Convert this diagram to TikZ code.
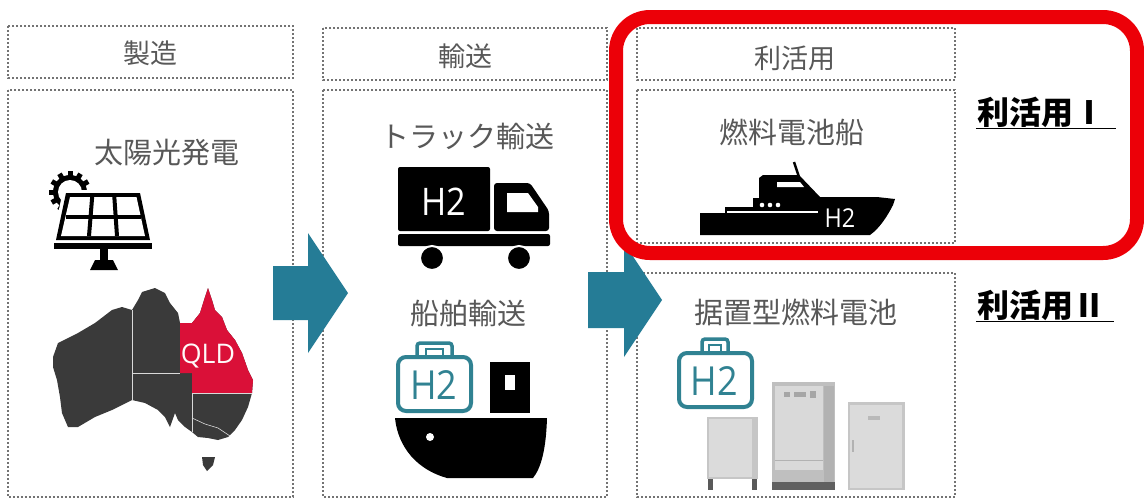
\documentclass[tikz,border=0pt]{standalone}
\usepackage{fontspec}
\setmainfont{Noto Sans CJK JP}
\newfontfamily\iconfont{Open Sans}
\usetikzlibrary{positioning}
\usetikzlibrary{calc}

\definecolor{flowteal}{RGB}{37,124,150}
\definecolor{bagteal}{RGB}{48,130,146}
\definecolor{markred}{RGB}{236,0,8}
\definecolor{mapgray}{RGB}{58,58,58}
\definecolor{qldred}{RGB}{218,16,56}
\definecolor{labelgray}{RGB}{88,88,88}

\begin{document}
\begin{tikzpicture}[
        x = 1pt, y = -1pt,
        dotbox/.style = {
            draw = black!55,
            line width = 2.2pt,
            dash pattern = on 2pt off 2pt
        },
        head/.style = {
            font = \fontsize{27}{30}\selectfont,
            text = labelgray,
            inner sep = 0pt
        },
        item/.style = {
            font = \fontsize{29}{32}\selectfont,
            text = labelgray,
            inner sep = 0pt
        },
        usage/.style = {
            font = \fontsize{32}{34}\selectfont\bfseries,
            inner sep = 1pt
        },
        flow/.style = {fill = flowteal},
        h2tag/.style = {
            font = \iconfont\fontsize{#1}{#1}\selectfont,
            xscale = 0.9,
            inner sep = 0pt
        },
        h2tag/.default = 24,
        bag/.style = {draw = bagteal, line width = 4pt, rounded corners = 8pt}
        ]
%
        \useasboundingbox (0,0) rectangle (1144,499);
        \fill[white] (0,0) rectangle (1144,499);
%
% column frames
        \draw[dotbox] (8,26) rectangle (293,78);
        \draw[dotbox] (8,90) rectangle (293,497);
        \draw[dotbox] (323,28) rectangle (607,80);
        \draw[dotbox] (323,90) rectangle (607,497);
        \draw[dotbox] (637,28) rectangle (955,80);
        \draw[dotbox] (637,90) rectangle (955,243);
        \draw[dotbox] (637,273) rectangle (955,497);
%
        \node[head] (mfg) at (150,53) {製造};
        \node[head] (trans) at (465,56) {輸送};
        \node[head] (use) at (795,58) {利活用};
%
        \node[item] (solar) at (167,153) {太陽光発電};
        \node[item] (truck) at (467,136) {トラック輸送};
        \node[item] (ship) at (468,313) {船舶輸送};
        \node[item] (fcship) at (792,132) {燃料電池船};
        \node[item] (fcunit) at (796,312) {据置型燃料電池};
%
        \node[usage] (use1) at (1041,112) {利活用Ⅰ};
        \node[usage] (use2) at (1041,305) {利活用Ⅱ};
        \draw[line width = 1.4pt] (use1.south west) -- ([xshift=10pt]use1.south east);
        \draw[line width = 1.4pt] (use2.south west) -- ([xshift=8pt]use2.south east);
%
% sun and solar panel
        \fill (70,192) circle (17);
        \fill[white] (70,192) circle (12);
        \foreach \a in {0,30,...,330}
            \fill[rotate around={\a:(70,192)}] (67.5,171) rectangle (72.5,177);
        \fill[white] (63,190) -- (143,190) -- (154,243) -- (52,243) -- cycle;
        \fill (66,193) -- (140,193) -- (150,240) -- (56,240) -- cycle;
        \coordinate (c1) at (70,197);
        \coordinate (c2) at (136.5,197);
        \coordinate (c3) at (145,236);
        \coordinate (c4) at (61,236);
        \fill[white] (c1) -- (c2) -- (c3) -- (c4) -- cycle;
        \draw[line width = 4pt] ($(c1)!1/3!(c2)$) -- ($(c4)!1/3!(c3)$);
        \draw[line width = 4pt] ($(c1)!2/3!(c2)$) -- ($(c4)!2/3!(c3)$);
        \draw[line width = 4pt] ($(c1)!.5!(c4)$) -- ($(c2)!.5!(c3)$);
        \fill (54,243) rectangle (152,249);
        \fill (100,249) rectangle (108,261);
        \fill (95,260) -- (113,260) -- (118,270) -- (90,270) -- cycle;
%
% map
        \fill[mapgray] (53,357) -- (58,343) -- (78,333) -- (95,323) -- (112,310) -- (122,307)
            -- (132,310) -- (138,300) -- (142,292) -- (155,288) -- (165,293) -- (170,303)
            -- (178,313) -- (180,323) -- (192,323) -- (200,313) -- (205,297) -- (208,288)
            -- (212,300) -- (215,310) -- (222,317) -- (227,330) -- (235,340) -- (242,353)
            -- (248,370) -- (253,380) -- (252,393) -- (248,407) -- (242,420) -- (235,430)
            -- (228,437) -- (218,440) -- (208,438) -- (198,437) -- (192,432) -- (185,427)
            -- (178,420) -- (175,413) -- (170,427) -- (165,417) -- (158,410) -- (145,403)
            -- (132,400) -- (112,410) -- (95,417) -- (78,427) -- (68,427) -- (62,413)
            -- (60,397) -- (57,380) -- (53,367) -- cycle;
        \fill[mapgray] (202,457) -- (215,457) -- (213,465) -- (207,471) -- (203,465) -- cycle;
        \fill[qldred] (180,323) -- (192,323) -- (200,313) -- (205,297) -- (208,288) -- (212,300)
            -- (215,310) -- (222,317) -- (227,330) -- (235,340) -- (242,353) -- (248,370)
            -- (253,380) -- (252,393) -- (192,393) -- (192,373) -- (180,373) -- cycle;
        \draw[white!70!gray, line width = 0.8pt] (132,310) -- (132,400);
        \draw[white!70!gray, line width = 0.8pt] (132,373) -- (180,373);
        \draw[white!70!gray, line width = 0.8pt] (192,393) -- (252,393);
        \draw[white!70!gray, line width = 0.8pt] (192,393) -- (192,432);
        \draw[white!70!gray, line width = 0.6pt] (192,418) -- (205,424) -- (218,428) -- (230,436);
        \node[h2tag=27, xscale=1.1, text=white!90!pink] (qld) at (208,356) {QLD};
%
% truck
        \fill[rounded corners = 2pt] (398,167) rectangle (490,231);
        \node[h2tag=38, text=white] (truckh2) at (444,202) {H2};
        \fill[rounded corners = 3pt] (494,183) -- (530,183) -- (549,211) -- (549,231) -- (494,231) -- cycle;
        \fill[white] (507,193) -- (528,193) -- (538,207) -- (538,212) -- (507,212) -- cycle;
        \fill[rounded corners = 2pt] (398,234) rectangle (550,246);
        \filldraw[draw = white, line width = 2pt] (432,258) circle (12);
        \filldraw[draw = white, line width = 2pt] (519,258) circle (12);
%
% cargo ship
        \draw[bag] (398,357) rectangle (471,411);
        \draw[bagteal, line width = 3.5pt, rounded corners = 3pt] (417,357) -- (417,343) -- (452,343) -- (452,357);
        \draw[bagteal, line width = 2pt] (426,349) rectangle (443,356);
        \node[h2tag=40, text=bagteal] (shiph2) at (434,385) {H2};
        \fill (490,362) rectangle (530,413);
        \fill[white] (505,375) rectangle (515,390);
        \fill (395,418) -- (547,418) .. controls (546,450) and (541,468) .. (533,478)
            -- (447,478) .. controls (418,470) and (398,448) .. (395,418) -- cycle;
        \fill[white] (430,437) circle (4);
%
% fuel cell boat
        \fill (700,235) -- (700,213) -- (725,213) -- (725,207) -- (753,207) -- (753,198)
            -- (759,198) -- (759,178) -- (763,175) -- (799,175) -- (820,197) -- (877,197)
            -- (895,199) -- (893,205) .. controls (888,215) and (880,228) .. (870,235) -- cycle;
        \draw[line width = 2.5pt] (794,162) -- (799,177);
        \fill[white] (777,182) -- (800,182) -- (804,187) -- (777,187) -- cycle;
        \draw[white, line width = 1.2pt] (727,212) -- (818,212);
        \foreach \x in {762,770,778}
            \fill[white] (\x,205) circle (2.3);
        \node[h2tag=26, text=white] (boath2) at (840,218) {H2};
%
% stationary fuel cell units
        \draw[bag] (679,353) rectangle (752,407);
        \draw[bagteal, line width = 3.5pt, rounded corners = 3pt] (702,353) -- (702,339) -- (728,339) -- (728,353);
        \draw[bagteal, line width = 2pt] (709,345) rectangle (721,352);
        \node[h2tag=40, text=bagteal] (unith2) at (714,381) {H2};
%
        \fill[gray!45] (707,417) rectangle (758,479);
        \fill[gray!28] (709,419) rectangle (752,477);
        \fill[gray!70!black] (708,479) rectangle (713,490);
        \fill[gray!70!black] (752,479) rectangle (757,490);
%
        \fill[gray!50] (772,382) rectangle (835,482);
        \fill[gray!30] (775,386) rectangle (823,470);
        \fill[gray!60] (824,386) rectangle (834,482);
        \fill[gray!70] (784,392) rectangle (790,397);
        \fill[gray!70] (794,392) rectangle (806,397);
        \fill[gray!70] (810,391) rectangle (816,398);
        \draw[gray!60] (775,460) -- (823,460);
        \fill[gray!75!black] (772,482) rectangle (835,490);
%
        \fill[gray!45] (848,402) rectangle (905,490);
        \fill[gray!28] (850,405) rectangle (902,488);
        \fill[gray!60] (852,440) rectangle (854,452);
        \fill[gray!55] (868,416) rectangle (880,420);
%
% flow arrows
        \fill[flow] (273,266) -- (308,266) -- (308,233) -- (348,293) -- (308,353) -- (308,320) -- (273,320) -- cycle;
        \fill[flow] (588,272) -- (624,272) -- (624,243) -- (662,300) -- (624,357) -- (624,328) -- (588,328) -- cycle;
%
% highlighted usage
        \draw[markred, line width = 14pt, rounded corners = 34pt] (616,17) rectangle (1137,253);
%
\end{tikzpicture}
\end{document}
